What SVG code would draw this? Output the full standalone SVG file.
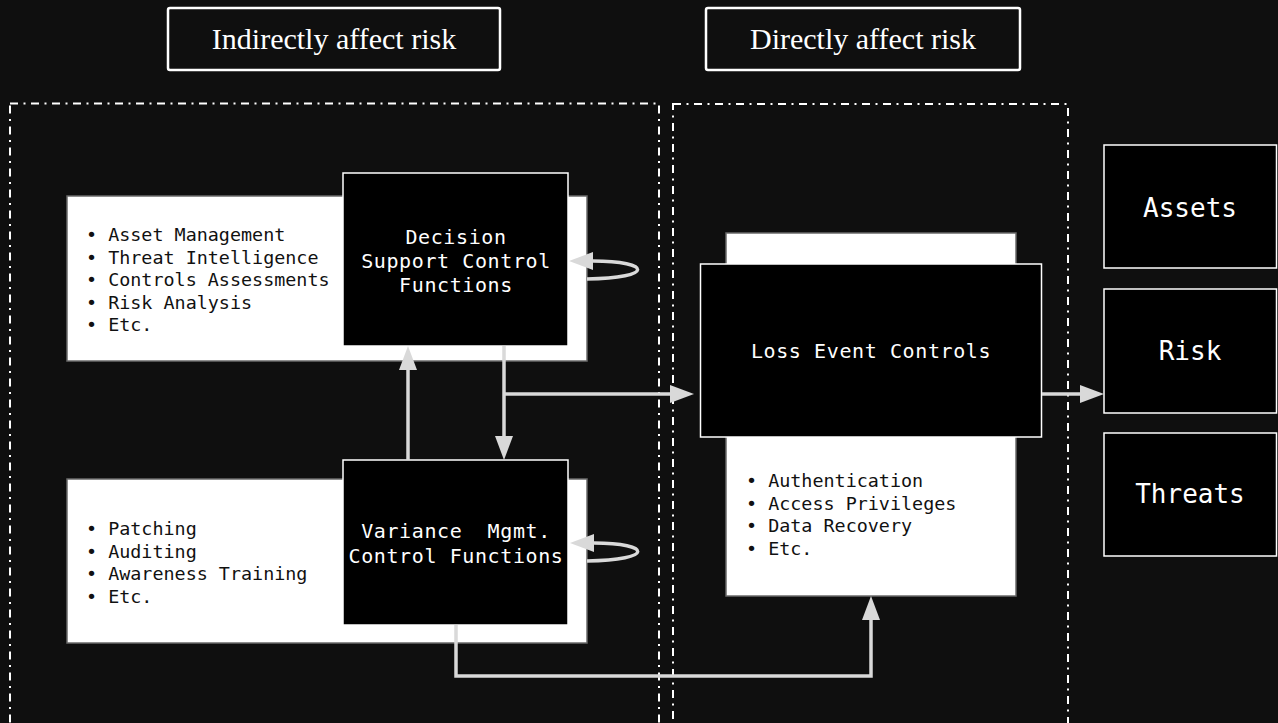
<svg xmlns="http://www.w3.org/2000/svg" width="1278" height="723" viewBox="0 0 1278 723">
<defs>
<style>
.bg{fill:#0f0f0f}
.zone{fill:none;stroke:#ffffff;stroke-width:2;stroke-dasharray:8 5.5 2 5.5}
.tag{fill:#0f0f0f;stroke:#ffffff;stroke-width:2.5}
.tagt{font-family:"Liberation Serif",serif;font-size:30px;fill:#ffffff;text-anchor:middle}
.panel{fill:#ffffff;stroke:#6a6a6a;stroke-width:1.5}
.blk{fill:#000000;stroke:#ffffff;stroke-width:1.5}
.lbl{font-family:"DejaVu Sans Mono",monospace;fill:#ffffff;text-anchor:middle}
.fn{font-size:20px;letter-spacing:0.6px}
.bul{font-family:"DejaVu Sans Mono",monospace;font-size:18.4px;fill:#111111}
.con{fill:none;stroke:#d9d9d9;stroke-width:3.5}
</style>
<marker id="ah" viewBox="0 0 24 18" markerWidth="24" markerHeight="18" refX="0" refY="9" orient="auto" markerUnits="userSpaceOnUse">
<path d="M0,0 L24,9 L0,18 Z" fill="#d9d9d9"/>
</marker>
</defs>
<rect class="bg" x="0" y="0" width="1278" height="723"/>
<g id="zone-indirect">
<rect class="zone" x="10" y="103.5" width="649" height="700"/>
</g>
<g id="zone-direct">
<rect class="zone" x="673" y="104" width="395" height="700"/>
</g>
<g id="tag-indirect">
<rect class="tag" x="168" y="8" width="332" height="62" rx="2"/>
<text class="tagt" x="334" y="49">Indirectly affect risk</text>
</g>
<g id="tag-direct">
<rect class="tag" x="706" y="8" width="314" height="62" rx="2"/>
<text class="tagt" x="863" y="49">Directly affect risk</text>
</g>
<g id="decision">
<rect class="panel" x="67" y="196" width="520" height="165"/>
<text class="bul" x="86" y="241">• Asset Management</text>
<text class="bul" x="86" y="263.5">• Threat Intelligence</text>
<text class="bul" x="86" y="286">• Controls Assessments</text>
<text class="bul" x="86" y="308.5">• Risk Analysis</text>
<text class="bul" x="86" y="331">• Etc.</text>
<rect class="blk" x="343" y="173" width="225" height="173"/>
<text class="lbl fn" x="456" y="244">Decision</text>
<text class="lbl fn" x="456" y="268">Support Control</text>
<text class="lbl fn" x="456" y="292">Functions</text>
</g>
<g id="variance">
<rect class="panel" x="67" y="479" width="520" height="164"/>
<text class="bul" x="86" y="535">• Patching</text>
<text class="bul" x="86" y="557.5">• Auditing</text>
<text class="bul" x="86" y="580">• Awareness Training</text>
<text class="bul" x="86" y="602.5">• Etc.</text>
<rect class="blk" x="343" y="460" width="225" height="165"/>
<text class="lbl fn" x="456" y="538" xml:space="preserve">Variance  Mgmt.</text>
<text class="lbl fn" x="456" y="563">Control Functions</text>
</g>
<g id="loss">
<rect class="panel" x="726" y="233" width="290" height="363"/>
<rect class="blk" x="700.5" y="264" width="341" height="173"/>
<text class="lbl fn" x="871" y="358">Loss Event Controls</text>
<text class="bul" x="746" y="487">• Authentication</text>
<text class="bul" x="746" y="509.5">• Access Privileges</text>
<text class="bul" x="746" y="532">• Data Recovery</text>
<text class="bul" x="746" y="554.5">• Etc.</text>
</g>
<g id="assets">
<rect class="blk" x="1104" y="145" width="172.5" height="123"/>
<text class="lbl" font-size="26" x="1190" y="217">Assets</text>
</g>
<g id="risk">
<rect class="blk" x="1104" y="289" width="172.5" height="124"/>
<text class="lbl" font-size="26" x="1190" y="360">Risk</text>
</g>
<g id="threats">
<rect class="blk" x="1104" y="433" width="172.5" height="123"/>
<text class="lbl" font-size="26" x="1190" y="503">Threats</text>
</g>
<g id="connectors">
<path class="con" d="M408 460 V370" marker-end="url(#ah)"/>
<path class="con" d="M504 346 V436" marker-end="url(#ah)"/>
<path class="con" d="M504 394 H670" marker-end="url(#ah)"/>
<path class="con" d="M1042 394 H1080" marker-end="url(#ah)"/>
<path class="con" d="M456 625 V676 H871 V620" marker-end="url(#ah)"/>
<path class="con" d="M587 279 C655 278 652 261 593 261" marker-end="url(#ah)"/>
<path class="con" d="M587 561 C655 560 652 543 594 543" marker-end="url(#ah)"/>
</g>
</svg>
